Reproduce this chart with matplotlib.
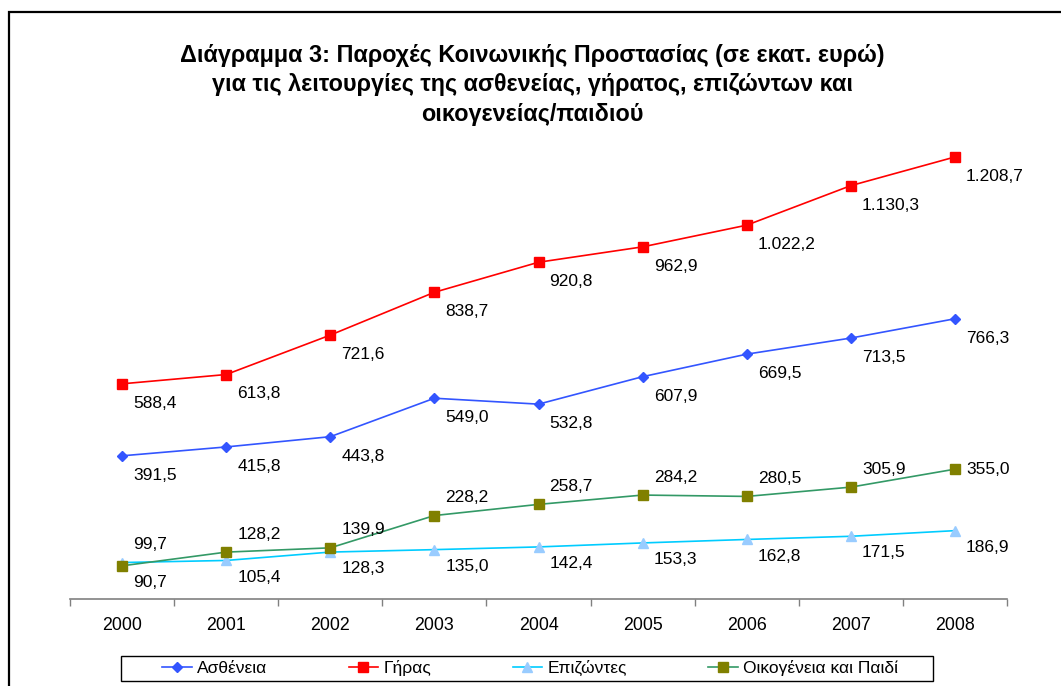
import matplotlib
matplotlib.use("Agg")
import matplotlib.pyplot as plt
from matplotlib.patches import Rectangle

plt.rcParams['font.family'] = ['Liberation Sans', 'DejaVu Sans']

years = ['2000', '2001', '2002', '2003', '2004', '2005', '2006', '2007', '2008']
astheneia = [391.5, 415.8, 443.8, 549.0, 532.8, 607.9, 669.5, 713.5, 766.3]
giras = [588.4, 613.8, 721.6, 838.7, 920.8, 962.9, 1022.2, 1130.3, 1208.7]
epizontes = [99.7, 105.4, 128.3, 135.0, 142.4, 153.3, 162.8, 171.5, 186.9]
oikogeneia = [90.7, 128.2, 139.9, 228.2, 258.7, 284.2, 280.5, 305.9, 355.0]

names = ['Ασθένεια', 'Γήρας', 'Επιζώντες', 'Οικογένεια και Παιδί']


def gr(v):
    # greek number format: 1.208,7
    s = f"{v:,.1f}"
    return s.replace(',', 'X').replace('.', ',').replace('X', '.')


fig = plt.figure(figsize=(10.61, 6.86), dpi=100)
ax = fig.add_axes([70/1061, 1 - 599/686, (1007-70)/1061, (599-87)/686])

x = list(range(len(years)))
series = [
    (astheneia, '#3355FF', '#3355FF', 'D', 5.5, (8, -14)),
    (giras, '#FF0000', '#FF0000', 's', 6.5, (8, -14)),
    (epizontes, '#00CCFF', '#99CCFF', '^', 6.5, (8, -12)),
    (oikogeneia, '#339966', '#808000', 's', 7, (8, 13)),
]

last = len(years) - 1
for (vals, lc, mc, mk, ms, off), name in zip(series, names):
    ax.plot(x, vals, color=lc, lw=1.2, marker=mk, ms=ms, mfc=mc, mec=mc,
            label=name)
    for i, v in enumerate(vals):
        dx, dy = off
        # a few labels were moved by hand in the original
        if i == 0 and name == 'Επιζώντες':
            dy = 13
        if i == 0 and name == 'Οικογένεια και Παιδί':
            dy = -12
        if i == last and name == 'Οικογένεια και Παιδί':
            dy = 0
        ax.annotate(gr(v), (i, v), xytext=(dx, dy), textcoords='offset points',
                    ha='left', va='center', fontsize=12.5)

ax.set_xlim(-0.5, len(years) - 0.5)
ax.set_ylim(0, 1400)
for s in ['top', 'right', 'left']:
    ax.spines[s].set_visible(False)
ax.spines['bottom'].set_color('#808080')
ax.spines['bottom'].set_linewidth(1.2)
ax.set_yticks([])
ax.set_xticks(x)
ax.set_xticklabels(years, fontsize=12.8)
ax.tick_params(axis='x', length=0, pad=13)
ax.set_xticks([i - 0.5 for i in range(len(years) + 1)], minor=True)
ax.tick_params(axis='x', which='minor', length=5, color='#808080', width=1)

fig.text(532/1061, 1 - 85/686,
         'Διάγραμμα 3: Παροχές Κοινωνικής Προστασίας (σε εκατ. ευρώ)\n'
         'για τις λειτουργίες της ασθενείας, γήρατος, επιζώντων και\n'
         'οικογενείας/παιδιού',
         ha='center', va='center', fontsize=16.8, fontweight='bold',
         linespacing=1.38)

leg = fig.legend(loc='center left', bbox_to_anchor=(162/1061, 1 - 668/686),
                 ncol=4, fontsize=12.5, frameon=False, handlelength=1.7,
                 handletextpad=0.3, columnspacing=4.7, borderpad=0,
                 borderaxespad=0)

# legend box, wider on the left as in the original
fig.patches.append(Rectangle((121/1061, 1 - 681/686), 812/1061, 25/686,
                             transform=fig.transFigure, fill=False,
                             edgecolor='black', linewidth=1))

fig.patches.append(Rectangle((9/1061, -0.1), 1.2, 1.1 - 12/686,
                             transform=fig.transFigure, fill=False,
                             edgecolor='black', linewidth=1.6))

fig.savefig('out.png', dpi=100)
